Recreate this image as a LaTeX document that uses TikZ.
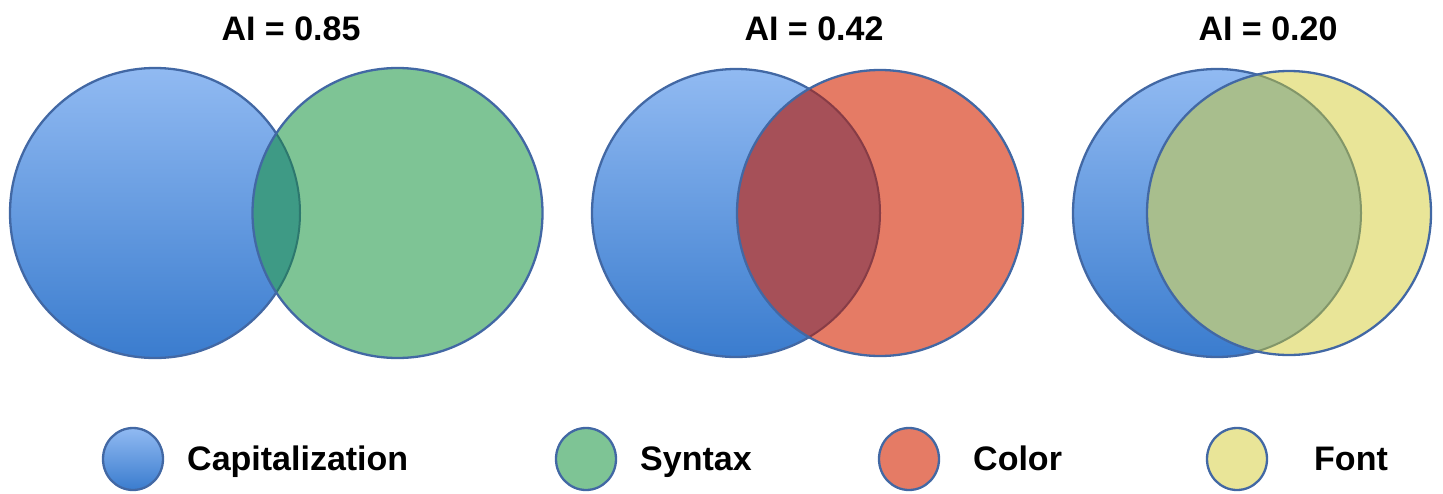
\documentclass[tikz,border=0pt]{standalone}
\usepackage{fontspec}
\setmainfont{Liberation Sans}
\definecolor{bluetop}{RGB}{145,186,242}
\definecolor{bluebot}{RGB}{58,124,206}
\definecolor{edgeblue}{RGB}{66,104,164}
\definecolor{greenfill}{RGB}{126,196,149}
\definecolor{redfill}{RGB}{229,123,101}
\definecolor{yellowfill}{RGB}{233,229,152}
\definecolor{lensgreen}{RGB}{62,154,133}
\definecolor{lensred}{RGB}{166,80,88}
\definecolor{lensyellow}{RGB}{168,190,141}
\definecolor{lensedgeg}{RGB}{45,120,110}
\definecolor{lensedger}{RGB}{135,60,70}
\definecolor{lensedgey}{RGB}{130,150,105}
\tikzset{
  bluegrad/.style={top color=bluetop, bottom color=bluebot},
  rim/.style={draw=edgeblue, line width=2.3pt},
  title/.style={font=\fontsize{34}{40}\selectfont\bfseries, anchor=base},
  legtext/.style={font=\fontsize{34}{40}\selectfont\bfseries, anchor=base west, inner sep=0pt},
}
\begin{document}
\begin{tikzpicture}[x=1pt,y=-1pt]
\useasboundingbox (0,0) rectangle (1443,493);
% centres
\coordinate (a1) at (155,213);
\coordinate (b1) at (397.5,213);
\coordinate (a2) at (736,213);
\coordinate (b2) at (880,213);
\coordinate (a3) at (1217,213);
\coordinate (b3) at (1289,213);
% titles
\node[title] (t1) at (291,40) {AI = 0.85};
\node[title] (t2) at (814,40) {AI = 0.42};
\node[title] (t3) at (1268,40) {AI = 0.20};
% venn 1
\fill[bluegrad] (a1) circle[radius=145];
\draw[rim] (a1) circle[radius=145];
\fill[greenfill] (b1) circle[radius=145];
\begin{scope}
  \clip (b1) circle[radius=145];
  \fill[lensgreen] (a1) circle[radius=145];
  \draw[lensedgeg, line width=2pt] (a1) circle[radius=145];
\end{scope}
\draw[rim] (b1) circle[radius=145];
% venn 2
\fill[bluegrad] (a2) circle[radius=144];
\draw[rim] (a2) circle[radius=144];
\fill[redfill] (b2) circle[radius=143];
\begin{scope}
  \clip (b2) circle[radius=143];
  \fill[lensred] (a2) circle[radius=144];
  \draw[lensedger, line width=2pt] (a2) circle[radius=144];
\end{scope}
\draw[rim] (b2) circle[radius=143];
% venn 3
\fill[bluegrad] (a3) circle[radius=144];
\draw[rim] (a3) circle[radius=144];
\fill[yellowfill] (b3) circle[radius=142];
\begin{scope}
  \clip (b3) circle[radius=142];
  \fill[lensyellow] (a3) circle[radius=144];
  \draw[lensedgey, line width=2pt] (a3) circle[radius=144];
\end{scope}
\draw[rim] (b3) circle[radius=142];
% legend
\coordinate (l1) at (133,459);
\coordinate (l2) at (586,459);
\coordinate (l3) at (909,459);
\coordinate (l4) at (1237,459);
\fill[bluegrad] (l1) ellipse[x radius=30, y radius=31];
\draw[rim] (l1) ellipse[x radius=30, y radius=31];
\filldraw[fill=greenfill, rim] (l2) ellipse[x radius=30, y radius=31];
\filldraw[fill=redfill, rim] (l3) ellipse[x radius=30, y radius=31];
\filldraw[fill=yellowfill, rim] (l4) ellipse[x radius=30, y radius=31];
\node[legtext] (n1) at (187,470) {Capitalization};
\node[legtext] (n2) at (640,470) {Syntax};
\node[legtext] (n3) at (973,470) {Color};
\node[legtext] (n4) at (1314,470) {Font};
\end{tikzpicture}
\end{document}
